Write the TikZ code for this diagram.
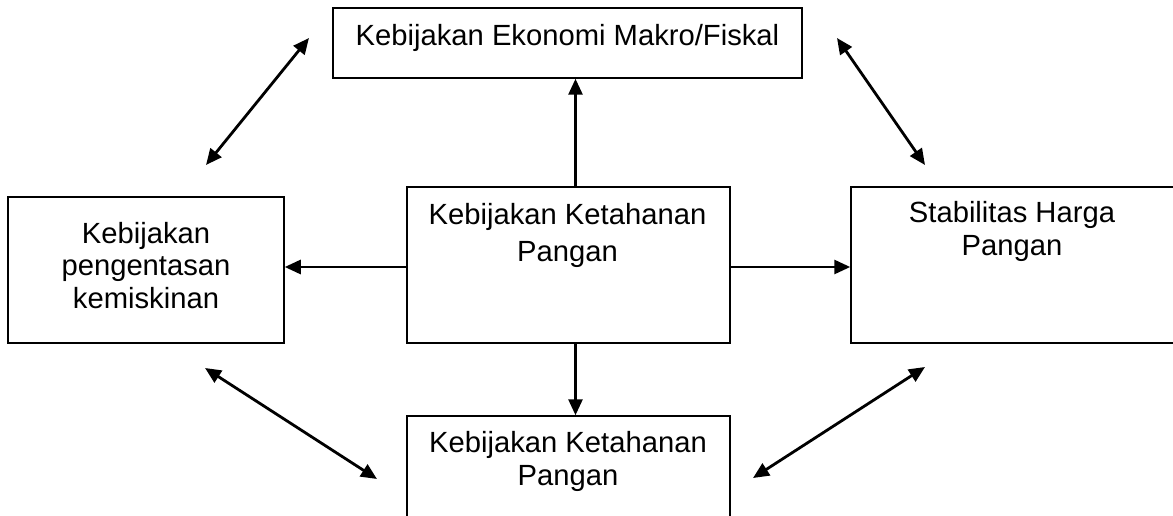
\documentclass[tikz,border=0pt]{standalone}
\usepackage{fontspec}
\setmainfont{Liberation Sans}
\usetikzlibrary{arrows.meta}
\begin{document}
\begin{tikzpicture}[x=1pt,y=-1pt]
\tikzset{
  box/.style={draw, line width=1.5pt, rectangle, inner sep=0pt},
  boxtext/.style={anchor=base, align=center, inner sep=0pt,
    font=\fontsize{29.2}{32.5}\selectfont},
  tip/.style={Triangle[length=16pt,width=14pt]},
  link/.style={line width=2.8pt, -{Triangle[length=16pt,width=14pt]}},
  twoway/.style={line width=2.8pt,
    {Triangle[length=16pt,width=14pt]}-{Triangle[length=16pt,width=14pt]}},
}
\useasboundingbox (0,0) rectangle (1173,516);
\clip (0,0) rectangle (1173,516);

% boxes
\node[box, minimum width=469pt, minimum height=70pt]  (macro)   at (567.5,43)  {};
\node[box, minimum width=323pt, minimum height=156pt] (core)    at (568.5,265) {};
\node[box, minimum width=276pt, minimum height=146pt] (poverty) at (146,270)   {};
\node[box, minimum width=340pt, minimum height=156pt] (price)   at (1021,265)  {};
\node[box, minimum width=323pt, minimum height=130pt] (bottom)  at (568.5,481) {};

% box texts (anchored on the baseline of their last line)
\node[boxtext] (macrotext)   at (567.5,46) {Kebijakan Ekonomi Makro/Fiskal};
\node[boxtext, font=\fontsize{29.2}{37}\selectfont]
               (coretext)    at (567.5,261) {Kebijakan Ketahanan\\Pangan};
\node[boxtext] (povertytext) at (146,308)  {Kebijakan\\pengentasan\\kemiskinan};
\node[boxtext] (pricetext)   at (1012,255) {Stabilitas Harga\\Pangan};
\node[boxtext] (bottomtext)  at (568,485)  {Kebijakan Ketahanan\\Pangan};

% one-way links from the core box
\draw[link] ([xshift=7pt]core.north) -- ([xshift=7pt]core.north |- macro.south);
\draw[link] ([xshift=7pt]core.south) -- ([xshift=7pt]core.south |- bottom.north);
\draw[link] ([yshift=-2pt]core.west) -- ([yshift=-2pt]core.west -| poverty.east);
\draw[link] ([yshift=-2pt]core.east) -- ([yshift=-2pt]core.east -| price.west);

% two-way links between the outer boxes
\coordinate (tlA) at (206,165);  \coordinate (tlB) at (309,38);
\coordinate (trA) at (837,38);   \coordinate (trB) at (925,165);
\coordinate (blA) at (205,368);  \coordinate (blB) at (377,479);
\coordinate (brA) at (925,367);  \coordinate (brB) at (753,478);
\draw[twoway] (tlA) -- (tlB);
\draw[twoway] (trA) -- (trB);
\draw[twoway] (blA) -- (blB);
\draw[twoway] (brA) -- (brB);
\end{tikzpicture}
\end{document}
